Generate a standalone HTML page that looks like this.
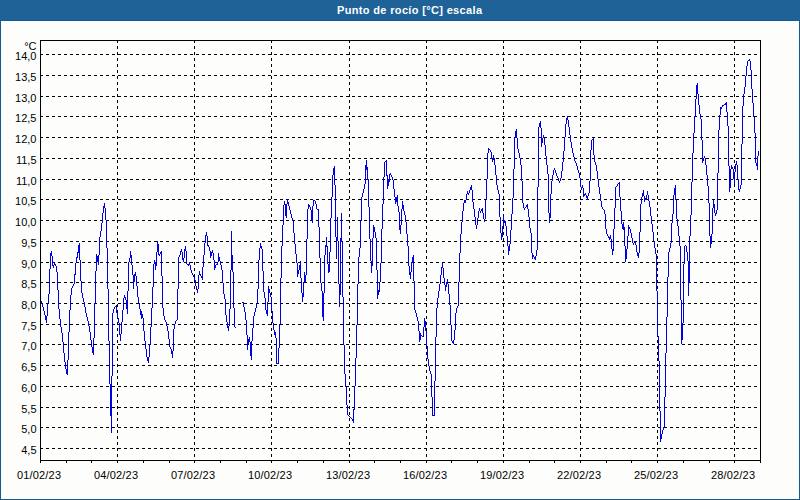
<!DOCTYPE html>
<html><head><meta charset="utf-8"><title>Punto de rocío [°C] escala</title>
<style>
html,body{margin:0;padding:0;background:#fdfefc;}
body{width:800px;height:500px;overflow:hidden;position:relative;font-family:"Liberation Sans",sans-serif;}
svg{position:absolute;left:0;top:0;display:block;}
text{font-family:"Liberation Sans",sans-serif;font-size:11px;fill:#000;}
.t{font-weight:bold;fill:#fff;}
</style></head><body>
<svg width="800" height="500" viewBox="0 0 800 500">
<rect x="0" y="0" width="800" height="500" fill="#145a92"/>
<rect x="0" y="0" width="800" height="20" fill="#1e6298"/>
<rect x="1" y="21" width="798" height="478" fill="#fdfefc"/>
<text class="t" x="337" y="14" textLength="145" lengthAdjust="spacing">Punto de rocío [°C] escala</text>
<g shape-rendering="crispEdges" fill="none" stroke="#000" stroke-width="1">
<g stroke-dasharray="3 3"><line x1="40" y1="54.5" x2="760" y2="54.5"/><line x1="40" y1="75.5" x2="760" y2="75.5"/><line x1="40" y1="96.5" x2="760" y2="96.5"/><line x1="40" y1="116.5" x2="760" y2="116.5"/><line x1="40" y1="137.5" x2="760" y2="137.5"/><line x1="40" y1="158.5" x2="760" y2="158.5"/><line x1="40" y1="179.5" x2="760" y2="179.5"/><line x1="40" y1="199.5" x2="760" y2="199.5"/><line x1="40" y1="220.5" x2="760" y2="220.5"/><line x1="40" y1="241.5" x2="760" y2="241.5"/><line x1="40" y1="262.5" x2="760" y2="262.5"/><line x1="40" y1="282.5" x2="760" y2="282.5"/><line x1="40" y1="303.5" x2="760" y2="303.5"/><line x1="40" y1="324.5" x2="760" y2="324.5"/><line x1="40" y1="344.5" x2="760" y2="344.5"/><line x1="40" y1="365.5" x2="760" y2="365.5"/><line x1="40" y1="386.5" x2="760" y2="386.5"/><line x1="40" y1="407.5" x2="760" y2="407.5"/><line x1="40" y1="427.5" x2="760" y2="427.5"/><line x1="40" y1="448.5" x2="760" y2="448.5"/><line x1="117.5" y1="40" x2="117.5" y2="460"/><line x1="194.5" y1="40" x2="194.5" y2="460"/><line x1="271.5" y1="40" x2="271.5" y2="460"/><line x1="349.5" y1="40" x2="349.5" y2="460"/><line x1="426.5" y1="40" x2="426.5" y2="460"/><line x1="503.5" y1="40" x2="503.5" y2="460"/><line x1="580.5" y1="40" x2="580.5" y2="460"/><line x1="657.5" y1="40" x2="657.5" y2="460"/><line x1="734.5" y1="40" x2="734.5" y2="460"/></g>
<rect x="40.5" y="40.5" width="720" height="420"/>
<path d="M40.5 461v2M66.5 461v2M91.5 461v2M117.5 461v2M143.5 461v2M169.5 461v2M194.5 461v2M220.5 461v2M246.5 461v2M271.5 461v2M297.5 461v2M323.5 461v2M349.5 461v2M374.5 461v2M400.5 461v2M426.5 461v2M451.5 461v2M477.5 461v2M503.5 461v2M529.5 461v2M554.5 461v2M580.5 461v2M606.5 461v2M631.5 461v2M657.5 461v2M683.5 461v2M709.5 461v2M734.5 461v2M760.5 461v2"/>
</g>
<path d="M41.5 301v3M42.5 304v3M43.5 307v4M44.5 311v4M45.5 315v5M46.5 316v7M47.5 303v13M48.5 294v9M49.5 269v25M50.5 253v16M51.5 251v5M52.5 256v10M53.5 265v3M54.5 263v2M55.5 264v2M56.5 266v6M57.5 272v18M58.5 290v19M59.5 309v10M60.5 319v8M61.5 327v6M62.5 333v9M63.5 342v11M64.5 353v9M65.5 362v7M66.5 369v5M67.5 360v15M68.5 332v28M69.5 310v22M70.5 295v15M71.5 288v7M72.5 286v2M73.5 284v2M74.5 274v10M75.5 263v12M76.5 257v6M77.5 252v6M78.5 245v8M79.5 243v17M80.5 260v21M81.5 281v12M82.5 293v5M83.5 298v4M84.5 302v5M85.5 307v6M86.5 313v4M87.5 317v4M88.5 321v5M89.5 326v6M90.5 332v8M91.5 340v7M92.5 347v6M93.5 338v17M94.5 303v35M95.5 271v32M96.5 254v17M97.5 256v6M98.5 255v10M99.5 237v18M100.5 231v6M101.5 223v8M102.5 213v10M103.5 206v7M104.5 203v5M105.5 208v12M106.5 220v28M107.5 248v41M108.5 289v52M109.5 341v43M110.5 384v32M111.5 376v57M112.5 313v63M113.5 309v4M114.5 307v2M115.5 306v1M116.5 305v8M117.5 313v5M118.5 318v5M119.5 323v12M120.5 334v7M121.5 322v12M122.5 310v12M123.5 298v12M124.5 295v3M125.5 297v3M126.5 300v9M127.5 291v23M128.5 262v29M129.5 258v4M130.5 251v7M131.5 255v10M132.5 265v10M133.5 275v14M134.5 274v8M135.5 272v4M136.5 276v10M137.5 286v11M138.5 297v6M139.5 303v6M140.5 309v6M141.5 311v8M142.5 314v4M143.5 318v13M144.5 331v10M145.5 341v8M146.5 349v8M147.5 357v4M148.5 357v6M149.5 344v13M150.5 327v17M151.5 308v19M152.5 287v21M153.5 264v23M154.5 260v4M155.5 262v8M156.5 252v14M157.5 241v11M158.5 244v11M159.5 254v2M160.5 252v2M161.5 251v25M162.5 276v32M163.5 308v8M164.5 316v4M165.5 320v2M166.5 322v4M167.5 326v5M168.5 331v8M169.5 339v8M170.5 347v2M171.5 349v5M172.5 351v7M173.5 329v22M174.5 324v5M175.5 321v3M176.5 320v1M177.5 289v31M178.5 257v32M179.5 255v2M180.5 251v4M181.5 249v3M182.5 252v8M183.5 258v4M184.5 249v9M185.5 246v5M186.5 251v13M187.5 264v1M188.5 264v2M189.5 262v3M190.5 265v5M191.5 270v3M192.5 273v2M193.5 275v2M194.5 277v3M195.5 280v6M196.5 286v4M197.5 289v4M198.5 275v14M199.5 271v4M200.5 274v2M201.5 276v2M202.5 267v13M203.5 255v12M204.5 243v12M205.5 235v8M206.5 232v4M207.5 236v10M208.5 245v2M209.5 247v4M210.5 251v7M211.5 252v4M212.5 250v3M213.5 253v7M214.5 260v10M215.5 265v3M216.5 264v1M217.5 262v3M218.5 253v9M219.5 257v4M220.5 261v4M221.5 265v5M222.5 270v13M223.5 283v11M224.5 294v5M225.5 299v16M226.5 315v7M227.5 322v6M228.5 326v5M229.5 309v17M230.5 270v39M231.5 231v39M232.5 255v17M233.5 272v36M234.5 308v19M235.5 327v1M242.5 302v1M243.5 302v5M244.5 307v5M245.5 312v8M246.5 320v15M247.5 335v15M248.5 339v6M249.5 337v5M250.5 342v14M251.5 341v19M252.5 328v13M253.5 316v12M254.5 312v4M255.5 308v4M256.5 304v4M257.5 289v15M258.5 260v29M259.5 248v12M260.5 243v5M261.5 246v3M262.5 249v22M263.5 271v21M264.5 292v6M265.5 298v12M266.5 310v4M267.5 302v14M268.5 286v16M269.5 289v4M270.5 293v4M271.5 297v14M272.5 311v12M273.5 323v7M274.5 330v5M275.5 332v6M276.5 338v26M277.5 363v1M278.5 348v16M279.5 324v24M280.5 278v46M281.5 246v32M282.5 225v21M283.5 205v20M284.5 201v4M285.5 204v12M286.5 204v14M287.5 199v5M288.5 202v4M289.5 206v4M290.5 210v4M291.5 214v4M292.5 218v3M293.5 221v12M294.5 233v11M295.5 244v10M296.5 254v9M297.5 263v14M298.5 270v4M299.5 265v5M300.5 261v17M301.5 278v15M302.5 293v9M303.5 282v15M304.5 272v10M305.5 275v7M306.5 239v36M307.5 209v30M308.5 204v5M309.5 205v2M310.5 207v3M311.5 210v11M312.5 206v17M313.5 200v6M314.5 200v1M315.5 201v3M316.5 204v5M317.5 209v1M318.5 209v18M319.5 227v31M320.5 258v25M321.5 283v8M322.5 291v26M323.5 293v28M324.5 255v38M325.5 245v10M326.5 237v10M327.5 246v18M328.5 264v9M329.5 252v20M330.5 218v34M331.5 197v21M332.5 175v22M333.5 168v7M334.5 166v19M335.5 185v52M336.5 237v22M337.5 217v24M338.5 241v43M339.5 284v23M340.5 238v57M341.5 213v29M342.5 242v55M343.5 297v48M344.5 345v29M345.5 374v13M346.5 387v18M347.5 405v10M348.5 415v1M349.5 416v1M350.5 417v1M351.5 418v1M352.5 419v2M353.5 409v14M354.5 386v24M355.5 358v28M356.5 325v33M357.5 284v41M358.5 257v27M359.5 248v9M360.5 221v27M361.5 197v24M362.5 193v4M363.5 189v4M364.5 184v5M365.5 165v19M366.5 160v10M367.5 167v13M368.5 179v28M369.5 207v32M370.5 239v22M371.5 261v12M372.5 238v28M373.5 225v13M374.5 227v5M375.5 232v6M376.5 238v32M377.5 270v29M378.5 290v5M379.5 282v10M380.5 263v19M381.5 229v34M382.5 204v25M383.5 177v27M384.5 162v15M385.5 161v1M386.5 160v16M387.5 175v14M388.5 179v7M389.5 174v8M390.5 173v2M391.5 175v2M392.5 177v3M393.5 180v9M394.5 189v8M395.5 197v7M396.5 197v5M397.5 195v11M398.5 206v6M399.5 212v18M400.5 225v9M401.5 209v16M402.5 201v8M403.5 205v6M404.5 211v4M405.5 215v7M406.5 222v12M407.5 234v12M408.5 246v20M409.5 266v9M410.5 272v7M411.5 262v10M412.5 257v5M413.5 255v26M414.5 281v29M415.5 310v3M416.5 313v4M417.5 317v4M418.5 321v10M419.5 331v11M420.5 333v7M421.5 335v1M422.5 336v1M423.5 327v10M424.5 318v9M425.5 321v10M426.5 331v15M427.5 346v13M428.5 359v7M429.5 366v5M430.5 371v3M431.5 374v23M432.5 397v19M433.5 415v1M434.5 381v35M435.5 337v44M436.5 308v29M437.5 298v10M438.5 291v7M439.5 284v7M440.5 275v9M441.5 267v8M442.5 263v5M443.5 268v10M444.5 278v7M445.5 285v6M446.5 282v5M447.5 279v5M448.5 284v10M449.5 294v11M450.5 305v20M451.5 325v16M452.5 341v2M453.5 340v4M454.5 330v10M455.5 313v17M456.5 308v5M457.5 306v2M458.5 282v24M459.5 253v29M460.5 234v19M461.5 222v12M462.5 211v11M463.5 203v8M464.5 200v3M465.5 200v3M466.5 194v6M467.5 191v3M468.5 193v2M469.5 190v3M470.5 187v3M471.5 185v5M472.5 190v12M473.5 202v7M474.5 209v8M475.5 217v8M476.5 225v4M477.5 218v7M478.5 211v7M479.5 208v3M480.5 211v2M481.5 209v2M482.5 208v5M483.5 213v6M484.5 219v3M485.5 200v19M486.5 179v21M487.5 153v26M488.5 148v5M489.5 149v1M490.5 150v2M491.5 152v7M492.5 159v3M493.5 155v5M494.5 158v7M495.5 165v10M496.5 175v10M497.5 185v5M498.5 190v4M499.5 194v23M500.5 217v16M501.5 233v7M502.5 226v11M503.5 216v10M504.5 220v3M505.5 221v5M506.5 226v10M507.5 236v10M508.5 246v9M509.5 244v7M510.5 230v14M511.5 214v16M512.5 198v16M513.5 169v29M514.5 138v31M515.5 131v7M516.5 129v9M517.5 138v11M518.5 149v4M519.5 153v5M520.5 158v7M521.5 165v16M522.5 181v22M523.5 203v5M524.5 208v2M525.5 207v1M526.5 205v2M527.5 204v5M528.5 209v8M529.5 217v11M530.5 228v5M531.5 233v20M532.5 253v6M533.5 255v2M534.5 257v2M535.5 256v4M536.5 250v6M537.5 187v63M538.5 127v60M539.5 123v4M540.5 121v7M541.5 128v19M542.5 138v5M543.5 135v3M544.5 137v8M545.5 145v11M546.5 156v9M547.5 165v9M548.5 174v39M549.5 213v10M550.5 194v24M551.5 181v13M552.5 175v6M553.5 170v5M554.5 168v2M555.5 170v3M556.5 173v3M557.5 176v2M558.5 178v3M559.5 181v2M560.5 178v3M561.5 171v7M562.5 162v9M563.5 151v11M564.5 137v14M565.5 124v13M566.5 118v6M567.5 116v4M568.5 120v7M569.5 127v8M570.5 135v7M571.5 142v6M572.5 148v5M573.5 153v4M574.5 157v4M575.5 161v2M576.5 163v3M577.5 166v4M578.5 170v3M579.5 173v5M580.5 178v9M581.5 187v3M582.5 185v3M583.5 188v9M584.5 194v2M585.5 193v2M586.5 195v3M587.5 196v4M588.5 193v3M589.5 181v12M590.5 150v31M591.5 140v10M592.5 139v1M593.5 138v17M594.5 155v7M595.5 162v3M596.5 165v6M597.5 171v8M598.5 179v8M599.5 187v7M600.5 194v7M601.5 201v6M602.5 207v2M603.5 209v1M604.5 210v4M605.5 214v15M606.5 229v5M607.5 234v2M608.5 236v2M609.5 237v3M610.5 235v4M611.5 239v10M612.5 249v6M613.5 229v22M614.5 208v21M615.5 187v21M616.5 186v1M617.5 184v2M618.5 183v1M619.5 182v15M620.5 197v14M621.5 211v13M622.5 224v5M623.5 222v8M624.5 227v19M625.5 246v16M626.5 249v10M627.5 236v13M628.5 225v11M629.5 227v2M630.5 229v4M631.5 233v5M632.5 238v5M633.5 243v2M634.5 242v1M635.5 241v4M636.5 245v7M637.5 252v4M638.5 253v5M639.5 232v21M640.5 204v28M641.5 197v7M642.5 193v4M643.5 190v6M644.5 196v6M645.5 198v2M646.5 195v5M647.5 191v4M648.5 195v6M649.5 201v6M650.5 207v9M651.5 216v8M652.5 224v8M653.5 232v9M654.5 241v7M655.5 248v6M656.5 254v37M657.5 291v45M658.5 336v25M659.5 361v50M660.5 411v31M661.5 434v5M662.5 430v4M663.5 427v3M664.5 397v30M665.5 353v44M666.5 317v36M667.5 277v40M668.5 252v25M669.5 248v4M670.5 243v5M671.5 223v20M672.5 214v9M673.5 195v19M674.5 188v7M675.5 185v15M676.5 200v19M677.5 219v7M678.5 226v10M679.5 236v10M680.5 246v54M681.5 300v44M682.5 323v17M683.5 264v59M684.5 246v18M685.5 245v1M686.5 246v6M687.5 252v9M688.5 261v35M689.5 236v46M690.5 215v21M691.5 182v33M692.5 153v29M693.5 133v20M694.5 116v17M695.5 99v18M696.5 85v14M697.5 83v11M698.5 94v11M699.5 105v9M700.5 114v5M701.5 119v21M702.5 140v23M703.5 158v3M704.5 156v2M705.5 158v7M706.5 165v10M707.5 175v11M708.5 186v17M709.5 203v33M710.5 236v12M711.5 234v10M712.5 208v26M713.5 200v8M714.5 204v9M715.5 213v3M716.5 210v4M717.5 173v37M718.5 130v43M719.5 115v15M720.5 107v8M721.5 107v2M722.5 105v2M723.5 105v1M724.5 104v1M725.5 103v2M726.5 102v10M727.5 112v14M728.5 126v40M729.5 166v26M730.5 169v19M731.5 165v4M732.5 167v2M733.5 169v10M734.5 172v12M735.5 164v8M736.5 161v4M737.5 165v14M738.5 179v11M739.5 189v3M740.5 185v4M741.5 144v41M742.5 106v38M743.5 94v12M744.5 87v7M745.5 76v11M746.5 66v10M747.5 61v5M748.5 60v1M749.5 59v2M750.5 61v9M751.5 70v19M752.5 89v14M753.5 103v14M754.5 117v16M755.5 133v30M756.5 163v3M757.5 156v14M758.5 151v5" shape-rendering="crispEdges" fill="none" stroke="#0000e0" stroke-width="1"/>
<text x="36.5" y="50" text-anchor="end">°C</text>
<text x="36.5" y="60" text-anchor="end">14,0</text><text x="36.5" y="81" text-anchor="end">13,5</text><text x="36.5" y="102" text-anchor="end">13,0</text><text x="36.5" y="122" text-anchor="end">12,5</text><text x="36.5" y="143" text-anchor="end">12,0</text><text x="36.5" y="164" text-anchor="end">11,5</text><text x="36.5" y="185" text-anchor="end">11,0</text><text x="36.5" y="205" text-anchor="end">10,5</text><text x="36.5" y="226" text-anchor="end">10,0</text><text x="36.5" y="247" text-anchor="end">9,5</text><text x="36.5" y="268" text-anchor="end">9,0</text><text x="36.5" y="288" text-anchor="end">8,5</text><text x="36.5" y="309" text-anchor="end">8,0</text><text x="36.5" y="330" text-anchor="end">7,5</text><text x="36.5" y="350" text-anchor="end">7,0</text><text x="36.5" y="371" text-anchor="end">6,5</text><text x="36.5" y="392" text-anchor="end">6,0</text><text x="36.5" y="413" text-anchor="end">5,5</text><text x="36.5" y="433" text-anchor="end">5,0</text><text x="36.5" y="454" text-anchor="end">4,5</text>
<text x="17" y="479" textLength="44" lengthAdjust="spacing">01/02/23</text><text x="94" y="479" textLength="44" lengthAdjust="spacing">04/02/23</text><text x="171" y="479" textLength="44" lengthAdjust="spacing">07/02/23</text><text x="248" y="479" textLength="44" lengthAdjust="spacing">10/02/23</text><text x="326" y="479" textLength="44" lengthAdjust="spacing">13/02/23</text><text x="403" y="479" textLength="44" lengthAdjust="spacing">16/02/23</text><text x="480" y="479" textLength="44" lengthAdjust="spacing">19/02/23</text><text x="557" y="479" textLength="44" lengthAdjust="spacing">22/02/23</text><text x="634" y="479" textLength="44" lengthAdjust="spacing">25/02/23</text><text x="711" y="479" textLength="44" lengthAdjust="spacing">28/02/23</text>
</svg>
</body></html>
